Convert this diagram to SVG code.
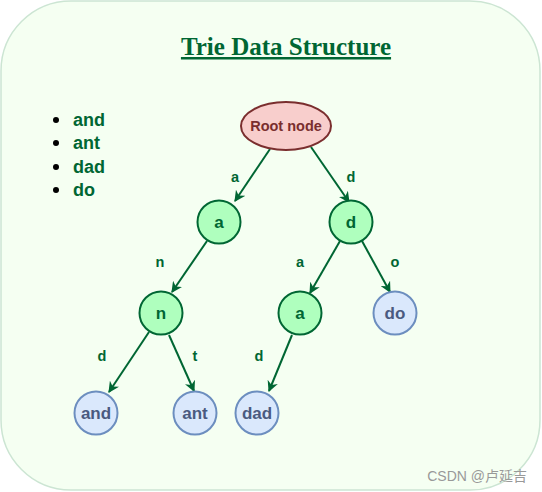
<svg xmlns="http://www.w3.org/2000/svg" width="542" height="492" viewBox="0 0 542 492">
<defs>
<marker id="arr" viewBox="0 0 10 10" refX="9" refY="5" markerWidth="5.5" markerHeight="5.5" orient="auto" markerUnits="strokeWidth">
<path d="M0,0 L10,5 L0,10 L3,5 Z" fill="#006633"/>
</marker>
</defs>
<style>
.green circle{fill:#AFFFBE;stroke:#006633;stroke-width:2}
.blue circle{fill:#DAE8FC;stroke:#6C8EBF;stroke-width:2}
.green text{fill:#006633;font-family:"Liberation Sans",Arial,sans-serif;font-weight:bold;font-size:17px;text-anchor:middle}
.blue text{fill:#4A5A80;font-family:"Liberation Sans",Arial,sans-serif;font-weight:bold;font-size:17px;text-anchor:middle}
.edges line{stroke:#006633;stroke-width:2;marker-end:url(#arr)}
.lbl{fill:#006633;font-family:"Liberation Sans",Arial,sans-serif;font-weight:bold;font-size:14.5px;text-anchor:middle}
.list{fill:#006633;font-family:"Liberation Sans",Arial,sans-serif;font-weight:bold;font-size:18px}
</style>
<rect x="1" y="1" width="539" height="489" rx="70" ry="70" fill="#F5FFF2" stroke="#CCE5D3" stroke-width="1.5"/>
<g id="title">
<text x="286" y="55" text-anchor="middle" fill="#006633" font-family="'Liberation Serif','Times New Roman',serif" font-weight="bold" font-size="25" text-decoration="underline">Trie Data Structure</text>
</g>
<g id="wordlist">
<circle cx="56" cy="120" r="3" fill="#000"/>
<circle cx="56" cy="143" r="3" fill="#000"/>
<circle cx="56" cy="167" r="3" fill="#000"/>
<circle cx="56" cy="190" r="3" fill="#000"/>
<text class="list" x="73" y="126">and</text>
<text class="list" x="73" y="149">ant</text>
<text class="list" x="73" y="173">dad</text>
<text class="list" x="73" y="196">do</text>
</g>
<g class="edges" id="connectors">
<line x1="270" y1="149" x2="235" y2="201"/>
<line x1="311" y1="147" x2="349" y2="202"/>
<line x1="207" y1="241" x2="172" y2="292"/>
<line x1="340" y1="241" x2="310" y2="293"/>
<line x1="362" y1="241" x2="390" y2="292"/>
<line x1="149" y1="332" x2="109" y2="392"/>
<line x1="169" y1="335" x2="194" y2="391"/>
<line x1="292" y1="335" x2="269" y2="391"/>
<text class="lbl" x="235" y="182">a</text>
<text class="lbl" x="351" y="182">d</text>
<text class="lbl" x="160" y="267">n</text>
<text class="lbl" x="300" y="267">a</text>
<text class="lbl" x="395" y="267">o</text>
<text class="lbl" x="102" y="361">d</text>
<text class="lbl" x="195" y="361">t</text>
<text class="lbl" x="259" y="361">d</text>
</g>
<g id="root">
<ellipse cx="286" cy="126" rx="45" ry="24" fill="#F8CECC" stroke="#7A2E2E" stroke-width="2"/>
<text x="286" y="131" text-anchor="middle" fill="#7A2E2E" font-family="'Liberation Sans',Arial,sans-serif" font-weight="bold" font-size="14.5">Root node</text>
</g>
<g id="node-a" class="green"><circle cx="219" cy="222" r="21.5"/><text x="219" y="228">a</text></g>
<g id="node-d" class="green"><circle cx="351" cy="222" r="21.5"/><text x="351" y="228">d</text></g>
<g id="node-n" class="green"><circle cx="161" cy="313" r="21.5"/><text x="161" y="319">n</text></g>
<g id="node-da" class="green"><circle cx="300" cy="313" r="21.5"/><text x="300" y="319">a</text></g>
<g id="node-do" class="blue"><circle cx="395" cy="313" r="21.5"/><text x="395" y="319">do</text></g>
<g id="node-and" class="blue"><circle cx="96" cy="413" r="21.5"/><text x="96" y="419">and</text></g>
<g id="node-ant" class="blue"><circle cx="195" cy="413" r="21.5"/><text x="195" y="419">ant</text></g>
<g id="node-dad" class="blue"><circle cx="257" cy="413" r="21.5"/><text x="257" y="419">dad</text></g>
<g id="watermark">
<text x="527" y="481" text-anchor="end" fill="#999" font-family="'Liberation Sans','Noto Sans CJK SC',sans-serif" font-size="14">CSDN @卢延吉</text>
</g>
</svg>
